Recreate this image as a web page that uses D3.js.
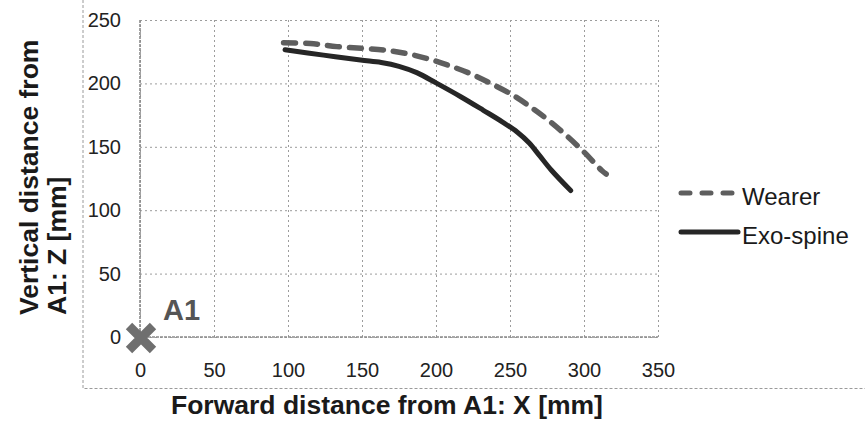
<!DOCTYPE html>
<html>
<head>
<meta charset="utf-8">
<script src="https://cdn.jsdelivr.net/npm/d3@7/dist/d3.min.js"></script>
<style>
  html, body { margin: 0; padding: 0; background: #fff; }
  svg { display: block; font-family: "Liberation Sans", Arial, sans-serif; }
</style>
</head>
<body>
<svg id="chart" width="865" height="421"></svg>
<script>
// ---- data ----
const xTicks = [0, 50, 100, 150, 200, 250, 300, 350];
const zTicks = [0, 50, 100, 150, 200, 250];

const wearerX = [97, 115, 133, 151, 167, 180, 195, 208, 223, 237, 252, 264, 276, 288, 300, 312, 315];
const wearerZ = [232, 231.5, 229, 227.6, 226, 223.6, 219.3, 214.4, 207.8, 200, 190.7, 181.3, 170.9, 159, 145.9, 131.3, 128.5];

const exoX = [98, 124, 149, 163, 175, 187, 200, 217, 232, 245, 255, 263, 270, 278, 291];
const exoZ = [226.5, 222.3, 218.4, 216.5, 213.5, 208.5, 200.4, 189.3, 178.8, 169.5, 161.5, 153, 143, 131.5, 115.5];

const seriesNames = ["Wearer", "Exo-spine"];
const origin = [{ x: 0, z: 0, label: "A1" }];

const xTitle = "Forward distance from A1: X [mm]";
const yTitleLines = ["Vertical distance from", "A1: Z [mm]"];

// ---- layout ----
const svg = d3.select("#chart");
const x = d3.scaleLinear().domain([0, 350]).range([140, 658]);
const y = d3.scaleLinear().domain([0, 250]).range([337, 20]);

// outer dashed frame (left + bottom)
svg.append("path")
  .attr("d", "M83,0 L83,388.5 L865,388.5")
  .attr("fill", "none").attr("stroke", "#9a9a9a").attr("stroke-width", 1)
  .attr("stroke-dasharray", "3,2");

// gridlines
const gridX = svg.append("g").attr("transform", `translate(0,${y(0)})`)
  .call(d3.axisBottom(x).tickValues(xTicks).tickSize(-(y(0) - y(250))).tickFormat(""));
const gridY = svg.append("g").attr("transform", `translate(${x(0)},0)`)
  .call(d3.axisLeft(y).tickValues(zTicks).tickSize(-(x(350) - x(0))).tickFormat(""));
[gridX, gridY].forEach(g => {
  g.select(".domain").remove();
  g.selectAll(".tick line")
    .attr("stroke", "#9c9c9c").attr("stroke-width", 1).attr("stroke-dasharray", "2,3");
});

// main axis lines at x=0 and z=0
svg.append("line").attr("x1", x(0)).attr("x2", x(0)).attr("y1", y(250)).attr("y2", y(0))
  .attr("stroke", "#8c8c8c").attr("stroke-width", 1.6).attr("stroke-dasharray", "3,1");
svg.append("line").attr("x1", x(0)).attr("x2", x(350)).attr("y1", y(0)).attr("y2", y(0))
  .attr("stroke", "#8c8c8c").attr("stroke-width", 1.6).attr("stroke-dasharray", "3,1");

// tick labels
const xAx = svg.append("g").attr("transform", `translate(0,${y(0)})`)
  .call(d3.axisBottom(x).tickValues(xTicks).tickSize(0).tickPadding(26));
const yAx = svg.append("g").attr("transform", `translate(${x(0)},0)`)
  .call(d3.axisLeft(y).tickValues(zTicks).tickSize(0).tickPadding(19));
[xAx, yAx].forEach(g => {
  g.select(".domain").remove();
  g.selectAll("text").attr("font-size", 20).attr("fill", "#222")
    .attr("font-family", "Liberation Sans, Arial, sans-serif");
});

// lines
const line = d3.line().x(d => x(d[0])).y(d => y(d[1])).curve(d3.curveCatmullRom.alpha(0.5));
const wearer = wearerX.map((v, i) => [v, wearerZ[i]]);
const exo = exoX.map((v, i) => [v, exoZ[i]]);

svg.append("path").datum(exo).attr("d", line)
  .attr("fill", "none").attr("stroke", "#262626").attr("stroke-width", 5)
  .attr("stroke-linecap", "round").attr("stroke-linejoin", "round");
svg.append("path").datum(wearer).attr("d", line)
  .attr("fill", "none").attr("stroke", "#5e5e5e").attr("stroke-width", 5.5)
  .attr("stroke-dasharray", "12,10").attr("stroke-linecap", "round");

// origin marker
const mk = svg.append("g");
origin.forEach(o => {
  const cx = x(o.x) + 1, cy = y(o.z) + 1, r = 12;
  mk.append("path")
    .attr("d", `M${cx - r},${cy - r} L${cx + r},${cy + r} M${cx - r},${cy + r} L${cx + r},${cy - r}`)
    .attr("stroke", "#6f6f6f").attr("stroke-width", 9).attr("fill", "none");
  mk.append("text").attr("x", cx + 22).attr("y", cy - 18)
    .attr("font-size", 29).attr("font-weight", "bold").attr("fill", "#555")
    .text(o.label);
});

// axis titles
svg.append("text").attr("x", 171).attr("y", 414)
  .attr("font-size", 26.5).attr("font-weight", "bold").attr("fill", "#1a1a1a")
  .text(xTitle);
const baselines = [38, 66];
yTitleLines.forEach((t, i) => {
  svg.append("text")
    .attr("transform", `translate(${baselines[i]},315) rotate(-90)`)
    .attr("font-size", 26.5).attr("font-weight", "bold").attr("fill", "#1a1a1a")
    .text(t);
});

// legend
const legY = [193, 232];
const lg = svg.append("g");
seriesNames.forEach((name, i) => {
  const ly = legY[i];
  const l = lg.append("line").attr("x1", 681).attr("x2", 738).attr("y1", ly).attr("y2", ly)
    .attr("stroke-width", 5).attr("stroke-linecap", "round");
  if (i === 0) l.attr("stroke", "#5e5e5e").attr("stroke-dasharray", "9,12");
  else l.attr("stroke", "#262626");
  lg.append("text").attr("x", 742).attr("y", ly + 12)
    .attr("font-size", 24).attr("fill", "#1a1a1a").text(name);
});
</script>
</body>
</html>
